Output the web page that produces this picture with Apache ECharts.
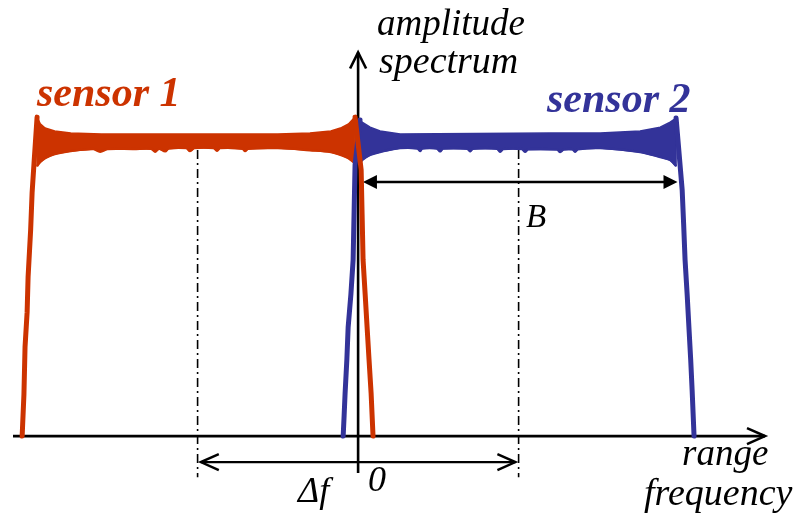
<!DOCTYPE html>
<html>
<head>
<meta charset="utf-8">
<script src="https://cdn.jsdelivr.net/npm/echarts@6/dist/echarts.min.js"></script>
<style>
  html, body { margin: 0; padding: 0; background: #fff; }
  #chart { width: 804px; height: 522px; }
</style>
</head>
<body>
<div id="chart"></div>
<script>
// Frequency in units of half the bandwidth (band width B = 2), amplitude normalised to 1.

// sensor 1 (red): rising and falling edges
const redLeftX  = [-2.093, -2.082, -2.075, -2.062, -2.056, -2.040, -2.031, -2.019, -2.0];
const redLeftY  = [0, 0.14, 0.302, 0.42, 0.539, 0.70, 0.824, 0.925, 1.081];
const redRightX = [-0.019, 0.019, 0.025, 0.031, 0.044, 0.056, 0.068, 0.081, 0.093];
const redRightY = [1.081, 0.902, 0.75, 0.597, 0.48, 0.369, 0.26, 0.146, 0];
// sensor 1 (red): envelope of the ringing plateau
const redUpperX = [-2.0, -1.98, -1.95, -1.89, -1.79, -1.6, -1.0, -0.5, -0.3, -0.17, -0.11, -0.06, -0.02];
const redUpperY = [1.081, 1.058, 1.044, 1.034, 1.027, 1.024, 1.024, 1.024, 1.027, 1.034, 1.044, 1.058, 1.081];
const redLowerX = [-2.0, -1.98, -1.95, -1.89, -1.79, -1.65, -1.607, -1.56, -1.4, -1.29, -1.265, -1.24, -1.202, -1.18,
                   -1.07, -1.047, -1.02, -0.9, -0.879, -0.86, -0.72, -0.704, -0.685, -0.5, -0.3, -0.17, -0.11, -0.06, -0.02];
const redLowerY = [0.915, 0.929, 0.942, 0.956, 0.966, 0.973, 0.964, 0.973, 0.973, 0.974, 0.964, 0.974, 0.965, 0.975,
                   0.976, 0.966, 0.976, 0.976, 0.967, 0.976, 0.974, 0.966, 0.974, 0.976, 0.969, 0.963, 0.953, 0.942, 0.925];

// sensor 2 (blue): rising and falling edges
const blueLeftX  = [-0.093, -0.087, -0.081, -0.070, -0.062, -0.045, -0.031, -0.019, 0.012];
const blueLeftY  = [0, 0.07, 0.146, 0.26, 0.369, 0.48, 0.597, 0.919, 1.071];
const blueRightX = [1.981, 2.019, 2.028, 2.037, 2.050, 2.062, 2.072, 2.081, 2.093];
const blueRightY = [1.078, 0.834, 0.72, 0.597, 0.48, 0.359, 0.26, 0.156, 0];
// sensor 2 (blue): envelope of the ringing plateau
const blueUpperX = [0.012, 0.025, 0.075, 0.137, 0.262, 1.2, 1.508, 1.757, 1.882, 1.944, 1.981];
const blueUpperY = [1.071, 1.064, 1.047, 1.034, 1.024, 1.027, 1.027, 1.034, 1.047, 1.064, 1.078];
const blueLowerX = [0.012, 0.025, 0.075, 0.137, 0.262, 0.37, 0.386, 0.40, 0.49, 0.511, 0.53, 0.68, 0.698, 0.715,
                    0.865, 0.885, 0.905, 1.02, 1.04, 1.06, 1.24, 1.259, 1.28, 1.335, 1.352, 1.37, 1.508, 1.757, 1.882, 1.944, 1.981];
const blueLowerY = [0.925, 0.936, 0.953, 0.963, 0.976, 0.975, 0.966, 0.975, 0.975, 0.965, 0.975, 0.974, 0.965, 0.974,
                    0.974, 0.964, 0.973, 0.973, 0.964, 0.972, 0.971, 0.963, 0.971, 0.972, 0.964, 0.972, 0.976, 0.963, 0.946, 0.936, 0.915];

// band centres and annotation levels
const bandCentres = [-1, 1];
const bArrow  = { from: 0.03, to: 1.99, y: 0.861 };
const dfArrow = { from: 0.98, to: -0.98, y: -0.088 };

const RED = '#CC3300';
const BLUE = '#333399';
const INK = '#000000';
const SERIF = '"Liberation Serif", "DejaVu Serif", serif';

const zip = (xs, ys) => xs.map((x, i) => [x, ys[i]]);

function edgeSeries(xs, ys, color) {
  return {
    type: 'line',
    data: zip(xs, ys),
    showSymbol: false,
    lineStyle: { color: color, width: 5, cap: 'round', join: 'round' },
    silent: true,
    z: 3
  };
}

// filled band between an upper and a lower envelope
function bandSeries(ux, uy, lx, ly, color) {
  const upper = zip(ux, uy);
  const lower = zip(lx, ly);
  return {
    type: 'custom',
    data: upper.concat(lower.slice().reverse()),
    encode: { x: 0, y: 1 },
    silent: true,
    z: 3,
    renderItem: function (params, api) {
      if (params.dataIndex !== 0) return;
      const top = upper.map(p => api.coord(p));
      const bottom = lower.slice().reverse().map(p => api.coord(p));
      return {
        type: 'group',
        children: [
          {
            type: 'polygon',
            shape: { points: top.concat(bottom) },
            style: { fill: color, stroke: color, lineWidth: 1.5, lineJoin: 'round' }
          },
          {
            // rounded ripple along the lower edge
            type: 'polyline',
            shape: { points: bottom, smooth: 0.35 },
            style: { fill: null, stroke: color, lineWidth: 2.5, lineJoin: 'round' }
          }
        ]
      };
    }
  };
}

// axes with open arrow heads, dash-dot centre lines, B and Δf arrows
const guides = {
  type: 'custom',
  data: [[0, 0]],
  silent: true,
  z: 2,
  renderItem: function (params, api) {
    const c = (x, y) => api.coord([x, y]);
    const xEnd = c(2.535, 0), xStart = c(-2.15, 0);
    const yTop = c(0, 1.3), yBot = c(0, -0.125);
    const lw = 2.6;
    const line = (p, q, w, dash) => ({
      type: 'line',
      shape: { x1: p[0], y1: p[1], x2: q[0], y2: q[1] },
      style: { stroke: INK, lineWidth: w, lineDash: dash || null }
    });
    const chevron = (pts, w) => ({
      type: 'polyline',
      shape: { points: pts },
      style: { stroke: INK, lineWidth: w, fill: null, lineJoin: 'miter' }
    });
    const tri = (pts) => ({
      type: 'polygon',
      shape: { points: pts },
      style: { fill: INK }
    });
    const children = [];
    // x axis
    children.push(line(xStart, xEnd, lw));
    children.push(chevron([[xEnd[0] - 18, xEnd[1] - 8], [xEnd[0], xEnd[1]], [xEnd[0] - 18, xEnd[1] + 8]], lw));
    // y axis
    children.push(line(yBot, yTop, lw));
    children.push(chevron([[yTop[0] - 8, yTop[1] + 16], [yTop[0], yTop[1]], [yTop[0] + 8, yTop[1] + 16]], lw));
    // dash-dot centre lines
    bandCentres.forEach(function (fc) {
      children.push(line(c(fc, 0.97), c(fc, -0.139), 1.6, [9, 4, 2, 4]));
    });
    // B arrow (filled heads)
    const b1 = c(bArrow.from, bArrow.y), b2 = c(bArrow.to, bArrow.y);
    children.push(line([b1[0] + 10, b1[1]], [b2[0] - 10, b2[1]], 2.6));
    children.push(tri([[b1[0], b1[1]], [b1[0] + 14, b1[1] - 7], [b1[0] + 14, b1[1] + 7]]));
    children.push(tri([[b2[0], b2[1]], [b2[0] - 14, b2[1] - 7], [b2[0] - 14, b2[1] + 7]]));
    // Δf arrow (open heads)
    const d1 = c(dfArrow.from, dfArrow.y), d2 = c(dfArrow.to, dfArrow.y);
    children.push(line(d1, d2, 2.4));
    children.push(chevron([[d1[0] - 18, d1[1] - 8], [d1[0], d1[1]], [d1[0] - 18, d1[1] + 8]], 2.4));
    children.push(chevron([[d2[0] + 18, d2[1] - 8], [d2[0], d2[1]], [d2[0] + 18, d2[1] + 8]], 2.4));
    return { type: 'group', children: children };
  }
};

function label(text, left, top, opts) {
  return {
    type: 'text',
    left: left,
    top: top,
    z: 10,
    style: Object.assign({
      text: text,
      fill: INK,
      fontFamily: SERIF,
      fontStyle: 'italic',
      fontSize: 37
    }, opts || {})
  };
}

const chart = echarts.init(document.getElementById('chart'), null, { renderer: 'canvas' });
chart.setOption({
  animation: false,
  backgroundColor: '#ffffff',
  grid: { left: 13, right: 39, top: 52.5, bottom: 49 },
  xAxis: {
    type: 'value', min: -2.15, max: 2.535,
    axisLine: { show: false }, axisTick: { show: false },
    axisLabel: { show: false }, splitLine: { show: false }
  },
  yAxis: {
    type: 'value', min: -0.125, max: 1.3,
    axisLine: { show: false }, axisTick: { show: false },
    axisLabel: { show: false }, splitLine: { show: false }
  },
  graphic: [
    label('amplitude', 377, 7, { fontSize: 37 }),
    label('spectrum', 379, 44, { fontSize: 38 }),
    label('sensor 1', 37, 74, { fill: RED, fontWeight: 'bold', fontSize: 42 }),
    label('sensor 2', 547, 80, { fill: BLUE, fontWeight: 'bold', fontSize: 42 }),
    label('B', 526, 202, { fontSize: 33 }),
    label('0', 368, 464, { fontSize: 36 }),
    label('\u0394f', 298, 475, { fontSize: 36 }),
    label('range', 682, 437, { fontSize: 37 }),
    label('frequency', 644, 476, { fontSize: 38 })
  ],
  series: [
    guides,
    bandSeries(blueUpperX, blueUpperY, blueLowerX, blueLowerY, BLUE),
    edgeSeries(blueLeftX, blueLeftY, BLUE),
    edgeSeries(blueRightX, blueRightY, BLUE),
    bandSeries(redUpperX, redUpperY, redLowerX, redLowerY, RED),
    edgeSeries(redLeftX, redLeftY, RED),
    edgeSeries(redRightX, redRightY, RED)
  ]
});
</script>
</body>
</html>
